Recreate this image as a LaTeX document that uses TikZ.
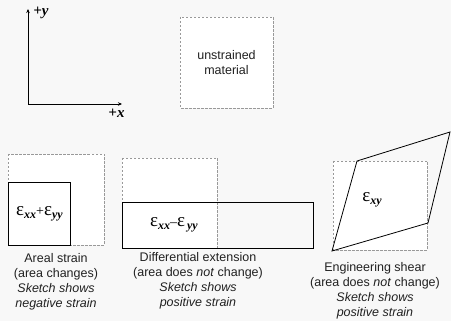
\documentclass[tikz,border=0pt]{standalone}
\usepackage{fontspec}
\setmainfont{Liberation Sans}
\newfontfamily\serifgr{Liberation Serif}
\usetikzlibrary{arrows.meta}
\definecolor{paper}{gray}{0.973}
\definecolor{ghost}{gray}{0.6}
\definecolor{ink}{gray}{0.13}
% strain symbol: large epsilon with a bold italic subscript
\newcommand{\strainsym}[1]{{\fontsize{19}{19}\selectfont ε}\raisebox{-2.5pt}{\fontsize{12}{12}\selectfont\bfseries\itshape #1}}
\newcommand{\strainop}[1]{{\fontsize{14}{14}\selectfont #1}}

\begin{document}
\begin{tikzpicture}[
    x=1pt, y=-1pt,
    refbox/.style={draw=ghost, dash pattern=on 2.5pt off 1.5pt, line width=0.7pt},
    strained/.style={draw=black, line width=0.8pt},
    caption/.style={align=center, font=\fontsize{12.5}{15}\selectfont, text=ink, inner sep=0pt, anchor=north},
    symb/.style={font=\serifgr, inner sep=0pt},
    axlabel/.style={font=\serifgr\fontsize{15}{15}\selectfont\bfseries\itshape, inner sep=0pt},
  ]
    \fill[paper] (0,0) rectangle (451,321);
    \useasboundingbox (0,0) rectangle (451,321);
    % axes
    \coordinate (o) at (28,104);
    \coordinate (ytip) at (28,9);
    \coordinate (xtip) at (122,104);
    \draw[line width=0.8pt, -{Stealth[length=4pt, width=3.5pt]}] (o) -- (ytip);
    \draw[line width=0.8pt, -{Stealth[length=4pt, width=3.5pt]}] (o) -- (xtip);
    \node[axlabel] (ylab) at (41,13) {+y};
    \node[axlabel] (xlab) at (116.5,113) {+x};
    % unstrained reference square
    \draw[refbox, fill=white] (180,17) rectangle (273,108);
    \node[caption] (unstr) at (226.5,50.5) {unstrained\\material};
    % white reference squares, behind the strained shapes
    \fill[white] (8,154) rectangle (104,245);
    \fill[white] (122,158) rectangle (217,248);
    \fill[white] (333,161) rectangle (427,250);
    \draw[refbox] (8,154) rectangle (104,245);
    \draw[refbox] (122,158) rectangle (217,248);
    \draw[refbox] (333,161) rectangle (427,250);
    % strained shapes
    \draw[strained] (8,182) rectangle (70,245);
    \draw[strained] (122,202) rectangle (313,248);
    \draw[strained] (332,251) -- (428,223) -- (450,132) -- (357,161) -- cycle;
    % strain symbols
    \node[symb] (areal) at (39.5,214) {\strainsym{xx}\strainop{+}\strainsym{yy}};
    \node[symb] (diffext) at (174,225) {\strainsym{xx}\strainop{–}\strainsym{\,yy}};
    \node[symb] (shear) at (372,200) {\strainsym{xy}};
    % captions
    \node[caption] (arealcap) at (56,253.5)
      {Areal strain\\(area changes)\\\textit{Sketch shows}\\\textit{negative strain}};
    \node[caption] (diffcap) at (198,252.5)
      {Differential extension\\(area does \textit{not} change)\\\textit{Sketch shows}\\\textit{positive strain}};
    \node[caption] (shearcap) at (375,262.5)
      {Engineering shear\\(area does \textit{not} change)\\\textit{Sketch shows}\\\textit{positive strain}};
  \end{tikzpicture}
\end{document}
